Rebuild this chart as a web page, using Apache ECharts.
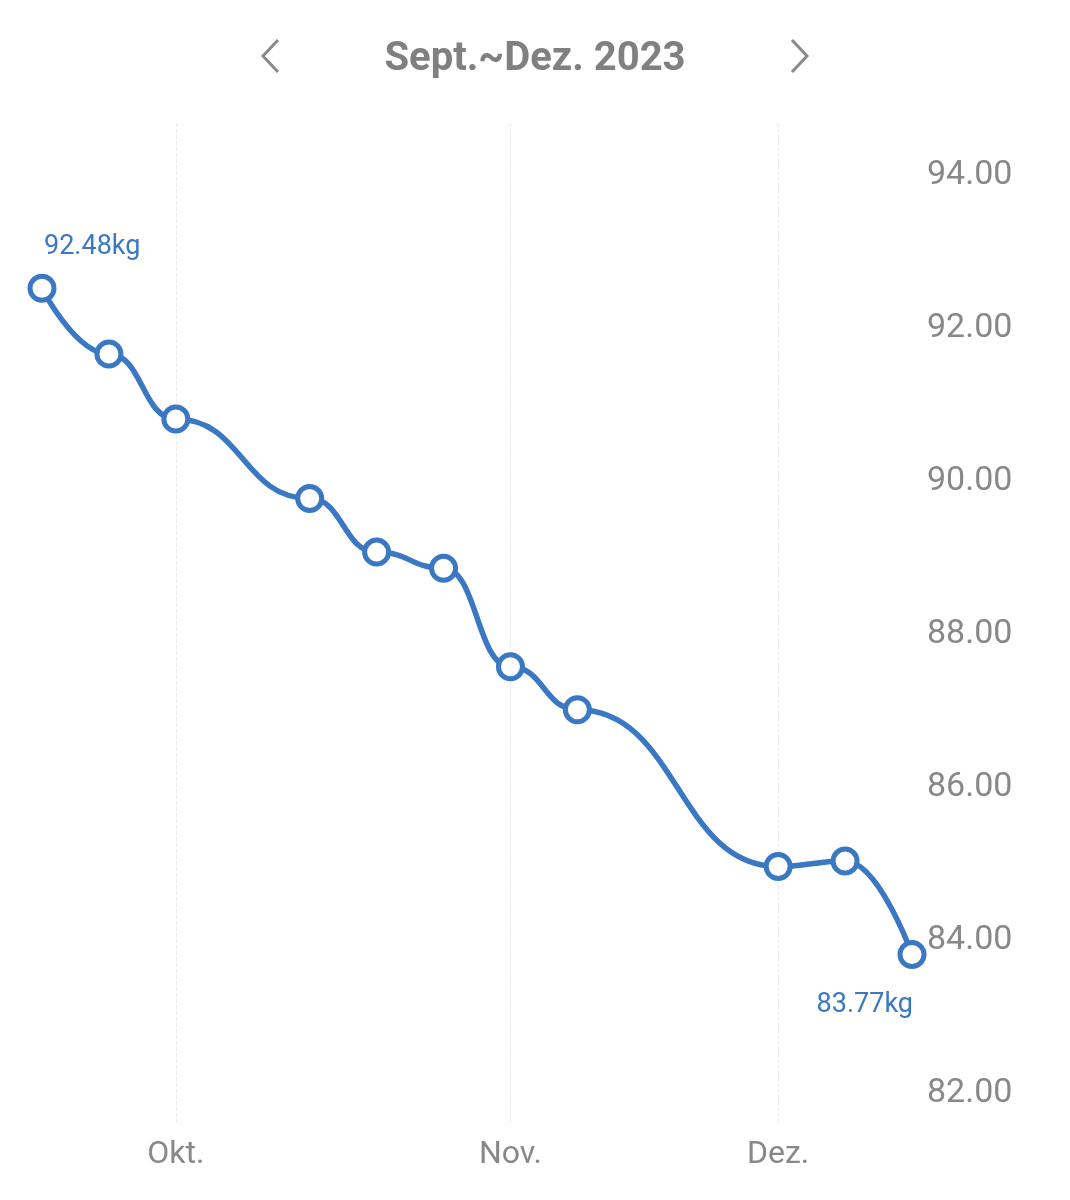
<!DOCTYPE html>
<html>
<head>
<meta charset="utf-8">
<style>
  html, body { margin: 0; padding: 0; background: #fff; }
  #chart { width: 1070px; height: 1200px; }
</style>
<script src="https://cdn.jsdelivr.net/npm/echarts@6/dist/echarts.min.js"></script>
</head>
<body>
<div id="chart"></div>
<script>
// Wochen-Slots, Monatsnamen nur am Monatsanfang
var weeks = ['', '', 'Okt.', '', '', '', '', 'Nov.', '', '', '', 'Dez.', '', ''];
// Gewicht in kg (null = keine Messung)
var weights = [92.48, 91.62, 90.77, null, 89.73, 89.03, 88.82, 87.53, 86.97, null, null, 84.92, 84.99, 83.77];
var yTicks = [82, 84, 86, 88, 90, 92, 94];
var titleText = 'Sept.~Dez. 2023';

var blue = '#3a78c3';
var grey = '#888888';

var myChart = echarts.init(document.getElementById('chart'));

// erster und letzter Wert bekommen ein Label
var lastIdx = weights.length - 1;
var seriesData = weights.map(function (v, i) {
    if (i === 0) {
        return { value: v, label: { show: true, position: 'top', align: 'left', offset: [2, -8] } };
    }
    if (i === lastIdx) {
        return { value: v, label: { show: true, position: 'bottom', align: 'right', offset: [1, 18] } };
    }
    return v;
});

var option = {
    animation: false,
    textStyle: { fontFamily: 'Roboto' },
    title: {
        text: titleText,
        left: 'center',
        top: 35,
        textStyle: { fontSize: 40, fontWeight: 'bold', color: '#808080', fontFamily: 'Roboto' }
    },
    graphic: [
        {
            type: 'polyline',
            shape: { points: [[278, 40], [263, 56], [278, 72]] },
            style: { stroke: '#8a8a8a', lineWidth: 3, fill: null }
        },
        {
            type: 'polyline',
            shape: { points: [[792, 40], [807, 56], [792, 72]] },
            style: { stroke: '#8a8a8a', lineWidth: 3, fill: null }
        }
    ],
    grid: {
        left: 42,
        right: 158,
        top: 123,
        bottom: 75
    },
    xAxis: {
        type: 'category',
        data: weeks,
        boundaryGap: false,
        axisLine: { show: false },
        axisTick: { show: false },
        axisLabel: {
            interval: 0,
            margin: 14,
            fontSize: 32,
            color: grey
        },
        splitLine: {
            show: true,
            interval: function (index, value) {
                return value !== '';
            },
            lineStyle: { color: '#ebebeb', type: 'dashed', width: 1 }
        }
    },
    yAxis: {
        type: 'value',
        position: 'right',
        min: 81.54,
        max: 94.64,
        axisLine: { show: false },
        axisTick: { show: false },
        splitLine: { show: false },
        axisLabel: {
            customValues: yTicks,
            margin: 15,
            formatter: function (value) {
                return '{v|' + value.toFixed(2) + '}';
            },
            rich: {
                v: {
                    fontSize: 34,
                    color: grey,
                    fontFamily: 'Roboto',
                    padding: [8, 0, 0, 0]
                }
            }
        }
    },
    series: [{
        type: 'line',
        data: seriesData,
        smooth: 0.5,
        smoothMonotone: 'x',
        connectNulls: true,
        symbol: 'circle',
        symbolSize: 24,
        itemStyle: {
            color: '#ffffff',
            borderColor: blue,
            borderWidth: 5
        },
        lineStyle: { color: blue, width: 5.5 },
        label: {
            show: false,
            fontSize: 27,
            color: blue,
            formatter: function (p) {
                return p.value.toFixed(2) + 'kg';
            }
        }
    }]
};

myChart.setOption(option);

window.onresize = function () {
    myChart.resize();
};
</script>
</body>
</html>
